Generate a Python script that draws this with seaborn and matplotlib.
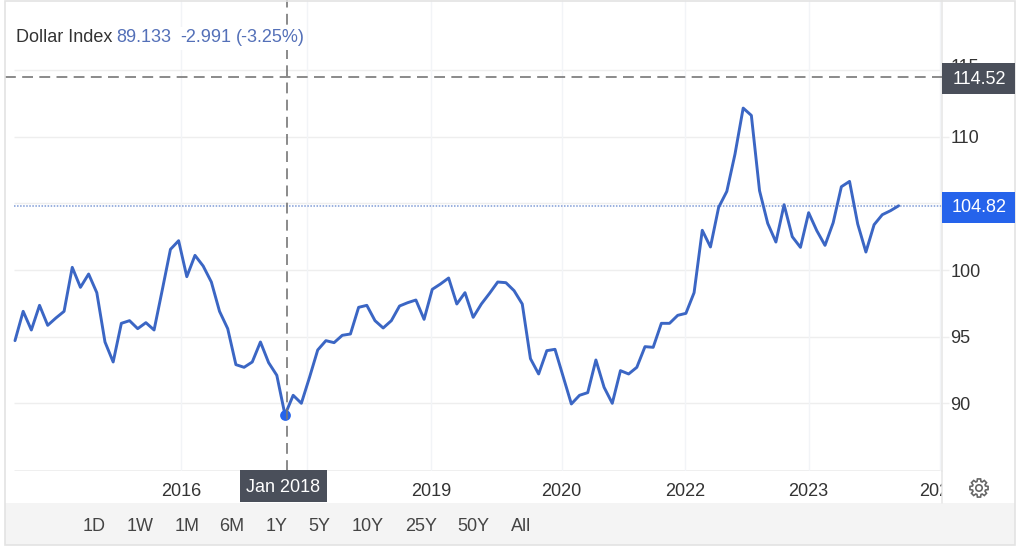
import numpy as np
import pandas as pd
import matplotlib
matplotlib.use("Agg")
import matplotlib.pyplot as plt
from matplotlib.patches import Rectangle, Polygon, Circle
from matplotlib.transforms import Bbox, ScaledTranslation
import seaborn as sns

# monthly closes
values = [94.7, 96.9, 95.5, 97.35, 95.85, 96.4, 96.9, 100.2, 98.7, 99.7,
          98.3, 94.6, 93.1, 96.0, 96.2, 95.6, 96.05, 95.5, 98.5, 101.55,
          102.2, 99.5, 101.1, 100.3, 99.1, 96.9, 95.6, 92.9, 92.7, 93.1,
          94.6, 93.05, 92.1, 89.13, 90.6, 90.0, 91.95, 94.0, 94.7, 94.55,
          95.1, 95.2, 97.2, 97.35, 96.2, 95.65, 96.2, 97.3, 97.55, 97.75,
          96.3, 98.55, 98.95, 99.4, 97.45, 98.3, 96.45, 97.45, 98.25, 99.1,
          99.05, 98.45, 97.45, 93.35, 92.2, 93.95, 94.05, 92.0, 89.95, 90.6,
          90.8, 93.25, 91.2, 90.0, 92.45, 92.2, 92.7, 94.25, 94.2, 96.0,
          96.0, 96.6, 96.75, 98.3, 102.98, 101.73, 104.7, 105.9, 108.7, 112.15,
          111.6, 105.95, 103.5, 102.1, 104.9, 102.5, 101.7, 104.3, 102.95, 101.85,
          103.55, 106.25, 106.65, 103.45, 101.35, 103.4, 104.15, 104.45, 104.82]
months = list(range(len(values)))

y_ticks = [90, 95, 100, 105, 110, 115]
y_tick_labels = ["90", "95", "100", "", "110", "115"]  # 105 sits under the blue box
x_tick_pos = [20.3, 35.7, 50.9, 66.8, 81.9, 97.0, 113.0]
x_tick_labels = ["2016", "", "2019", "2020", "2022", "2023", "2024"]  # 2018 sits under the cursor box
range_labels = ["1D", "1W", "1M", "6M", "1Y", "5Y", "10Y", "25Y", "50Y", "All"]
range_px = [94, 140, 186.7, 232, 277, 319, 368, 420.7, 473, 521]

last_value = 104.82
cursor_value = 114.52
cursor_month = 33.3
picked_month = 33
picked_value = 89.13

W, H = 1024, 547
AX_L, AX_R, AX_B = 5, 942, 471
LINE = "#3b66c4"
BLUE = "#2563eb"
DARK = "#4a4f5a"
GRID = "#eeeeee"
VGRID = "#f2f4f7"
TXT = "#333333"
FS = 13

sns.set_theme(style="white")
plt.rcParams["font.family"] = ["Liberation Sans", "DejaVu Sans"]

df = pd.DataFrame({"month": months, "value": values})

fig = plt.figure(figsize=(W / 100, H / 100), dpi=100, facecolor="white")
ax = fig.add_axes([AX_L / W, 1 - AX_B / H, (AX_R - AX_L) / W, AX_B / H])
ax.set_xlim(-1.22, 113.3)
ax.set_ylim(84.92, 120.26)
x_start = (14 - 15) / 8.18

ax.hlines(y_ticks, x_start, 113.3, color=GRID, lw=1.0, zorder=1)
ax.hlines(84.92, x_start, 113.3, color=GRID, lw=2.0, zorder=1)
ax.vlines(x_tick_pos, 84.92, 120.26, color=VGRID, lw=1.0, zorder=1)
ax.hlines(last_value, x_start, 113.3, color="#7f9bd6", lw=1.1, ls=(0, (1, 1)), zorder=2)

sns.lineplot(data=df, x="month", y="value", color=LINE, lw=2.1, ax=ax, zorder=3,
             errorbar=None)
ax.scatter([picked_month], [picked_value], s=60, color=BLUE, zorder=4, linewidths=0)

ax.axhline(cursor_value, color="#777777", lw=1.2, ls=(0, (6.5, 3.8)), zorder=5)
ax.axvline(cursor_month, color="#777777", lw=1.2, ls=(0, (6.5, 3.8)), zorder=5)

ax.set_xlabel("")
ax.set_ylabel("")
ax.yaxis.tick_right()
ax.set_yticks(y_ticks)
ax.set_yticklabels(y_tick_labels)
ax.tick_params(axis="y", length=5, width=1, color=GRID, labelsize=FS,
               labelcolor=TXT, pad=1, right=True)
ax.set_xticks(x_tick_pos)
ax.set_xticklabels(x_tick_labels)
ax.tick_params(axis="x", length=0, labelsize=FS, labelcolor=TXT, pad=9)
for lab in ax.get_xticklabels():
    if lab.get_text() == "2024":
        lab.set_clip_box(Bbox([[0, 0], [AX_R, H]]))
        lab.set_clip_on(True)
# the 115 label only peeks out above the dark box
for lab in ax.get_yticklabels():
    if lab.get_text() == "115":
        lab.set_transform(lab.get_transform() + ScaledTranslation(0, 3 / 72, fig.dpi_scale_trans))
for side in ["top", "left", "bottom"]:
    ax.spines[side].set_visible(False)
ax.spines["right"].set_color("#e6e6e6")
ax.spines["right"].set_linewidth(1.1)

# page furniture drawn in pixel coordinates on top of the chart
top = fig.add_axes([0, 0, 1, 1], facecolor="none", zorder=10)
top.set_xlim(0, W)
top.set_ylim(H, 0)
top.axis("off")

top.add_patch(Rectangle((5, 503), 1010, 42, color="#f4f4f4", lw=0))
top.plot([AX_R, AX_R], [471, 503], color="#e6e6e6", lw=1.1)
top.add_patch(Rectangle((5, 1), 1010, 544, fill=False, ec="#e3e3e3", lw=1.2))

top.add_patch(Rectangle((14, 27), 292, 23, color="white", lw=0))
top.text(16.5, 38, "Dollar Index", fontsize=FS, color=TXT, va="center")
top.text(116, 38, "89.133", fontsize=FS, color="#5470b8", va="center")
top.text(180, 38, "-2.991", fontsize=FS, color="#5470b8", va="center")
top.text(235.5, 38, "(-3.25%)", fontsize=FS, color="#5470b8", va="center")

top.add_patch(Rectangle((942, 63), 73, 31, color=DARK, lw=0))
top.text(979, 79, "114.52", fontsize=FS, color="white", ha="center", va="center")
top.add_patch(Rectangle((942, 192), 73, 31, color=BLUE, lw=0))
top.text(979, 207.5, "104.82", fontsize=FS, color="white", ha="center", va="center")
top.add_patch(Rectangle((240, 470), 86.5, 32, color=DARK, lw=0))
top.text(283.3, 487, "Jan 2018", fontsize=FS, color="white", ha="center", va="center")

for label, px in zip(range_labels, range_px):
    top.text(px, 526.5, label, fontsize=FS, color="#444444", ha="center", va="center")

# settings gear
ang = np.linspace(0, 2 * np.pi, 8, endpoint=False)
gear = []
for a in ang:
    for d, r in [(-0.30, 6.8), (-0.17, 9.2), (0.17, 9.2), (0.30, 6.8)]:
        gear.append((979 + r * np.cos(a + d), 488 + r * np.sin(a + d)))
top.add_patch(Polygon(gear, closed=True, fill=False, ec="#666666", lw=1.2))
top.add_patch(Circle((979, 488), 3.2, fill=False, ec="#666666", lw=1.2))

fig.savefig("out.png", dpi=100)
